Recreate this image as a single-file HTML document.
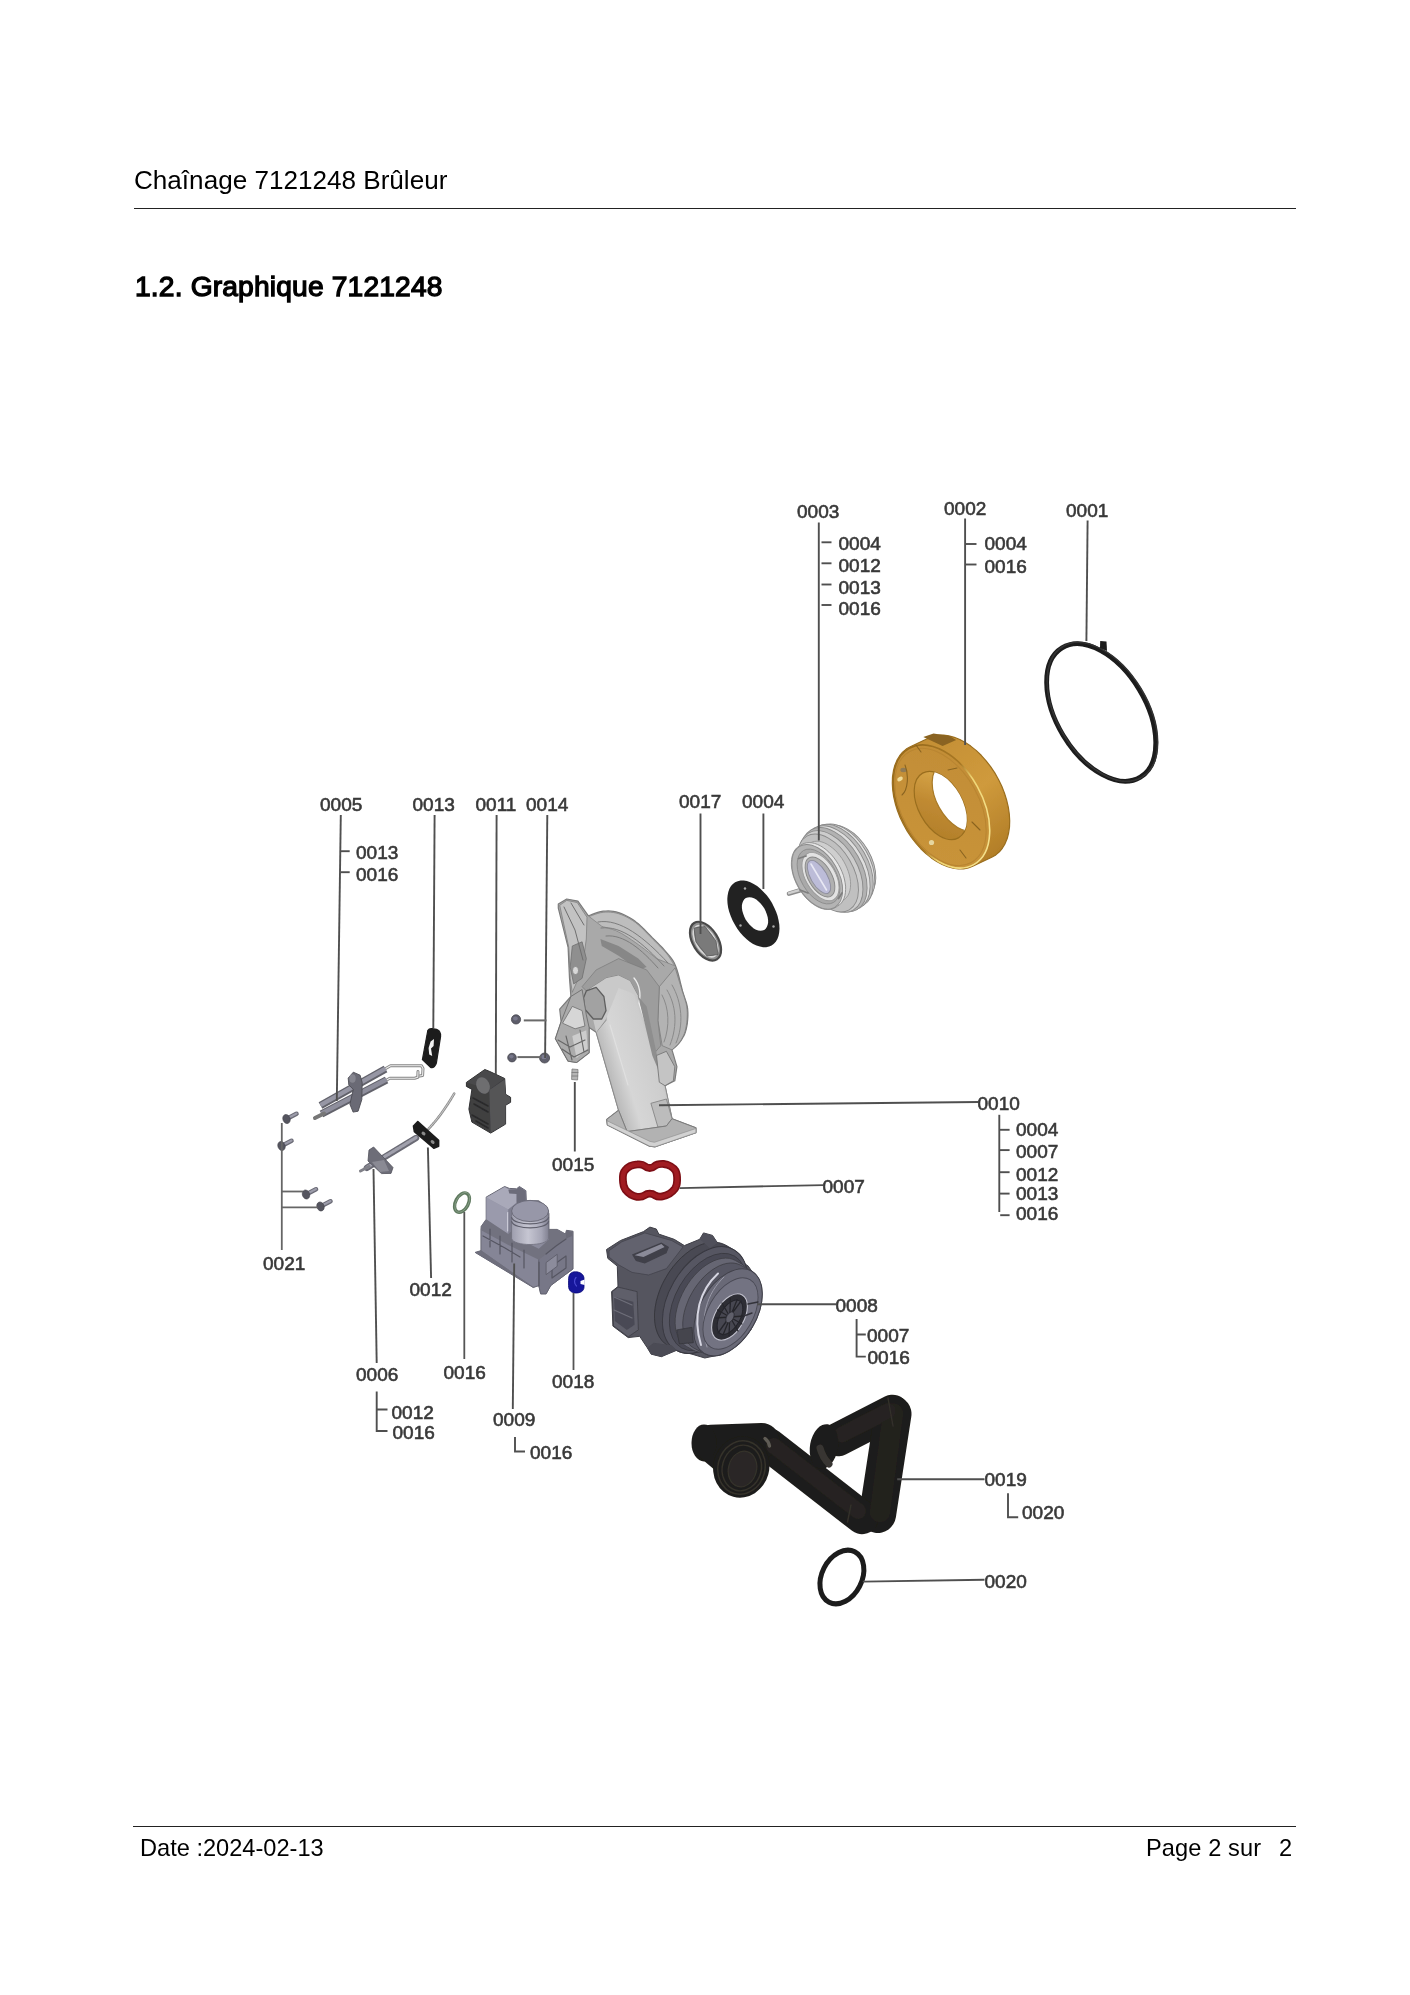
<!DOCTYPE html>
<html><head><meta charset="utf-8">
<title>Chaînage 7121248 Brûleur</title>
<style>
html,body{margin:0;padding:0;background:#fff;}
body{width:1410px;height:1995px;position:relative;overflow:hidden;font-family:"Liberation Sans",sans-serif;color:#000;}
.hdr{position:absolute;left:134px;top:165px;font-size:26.1px;line-height:30px;white-space:nowrap;}
.hline{position:absolute;left:134px;width:1162px;top:208px;height:1px;background:#222;}
.h2{position:absolute;left:134.5px;top:268.6px;font-size:28.2px;line-height:34px;font-weight:normal;white-space:nowrap;letter-spacing:0.16px;-webkit-text-stroke:1.3px #000;}
.fline{position:absolute;left:133px;width:1163px;top:1826px;height:1px;background:#222;}
.fl{position:absolute;left:139.5px;top:1835px;font-size:23.6px;line-height:26px;white-space:nowrap;}
.fr{letter-spacing:0.1px;position:absolute;left:1146px;top:1835px;font-size:23.6px;line-height:26px;white-space:nowrap;}
.fr2{position:absolute;left:1279px;top:1835px;font-size:23.6px;line-height:26px;white-space:nowrap;}
svg{position:absolute;left:0;top:0;}
.hdr,.h2,.fl,.fr,.fr2{will-change:transform;}
</style></head><body>
<div class="hdr" id="hdr">Chaînage 7121248 Brûleur</div>
<div class="hline"></div>
<div class="h2" id="h2">1.2. Graphique 7121248</div>
<div class="fline"></div>
<div class="fl" id="fl">Date :2024-02-13</div>
<div class="fr" id="fr">Page 2 sur</div>
<div class="fr2" id="fr2">2</div>
<svg id="dg" width="1410" height="1995" viewBox="0 0 1410 1995">
<defs>
<filter id="bl" filterUnits="userSpaceOnUse" x="0" y="0" width="1410" height="1995"><feGaussianBlur stdDeviation="0.45"/></filter>
<filter id="bp" filterUnits="userSpaceOnUse" x="0" y="0" width="1410" height="1995"><feGaussianBlur stdDeviation="0.6"/></filter>
<linearGradient id="gRim" gradientUnits="userSpaceOnUse" x1="930" y1="740" x2="1010" y2="850"><stop offset="0" stop-color="#c48f35"/><stop offset="0.5" stop-color="#cf9a3c"/><stop offset="1" stop-color="#b07c26"/></linearGradient>
<linearGradient id="gFace" gradientUnits="userSpaceOnUse" x1="895" y1="760" x2="985" y2="860"><stop offset="0" stop-color="#c28d36"/><stop offset="1" stop-color="#c9943a"/></linearGradient>
<linearGradient id="gIn" gradientUnits="userSpaceOnUse" x1="915" y1="780" x2="965" y2="830"><stop offset="0" stop-color="#d9a84a"/><stop offset="0.5" stop-color="#c08a32"/><stop offset="1" stop-color="#b27f2a"/></linearGradient>
<linearGradient id="gEdge" gradientUnits="userSpaceOnUse" x1="905" y1="835" x2="980" y2="775"><stop offset="0" stop-color="#9a6c1e"/><stop offset="0.5" stop-color="#a87824"/><stop offset="0.66" stop-color="#efd574"/><stop offset="1" stop-color="#f4e08a"/></linearGradient>
<linearGradient id="g10tube" gradientUnits="userSpaceOnUse" x1="600" y1="1060" x2="665" y2="1040"><stop offset="0" stop-color="#b4b4b4"/><stop offset="0.3" stop-color="#d6d6d6"/><stop offset="0.75" stop-color="#cdcdcd"/><stop offset="1" stop-color="#a8a8a8"/></linearGradient>
<linearGradient id="g9cyl" gradientUnits="userSpaceOnUse" x1="511" y1="0" x2="549" y2="0"><stop offset="0" stop-color="#9c9cac"/><stop offset="0.45" stop-color="#c6c6d2"/><stop offset="0.8" stop-color="#a6a6b6"/><stop offset="1" stop-color="#7f7f8f"/></linearGradient>
<filter id="bt" filterUnits="userSpaceOnUse" x="0" y="0" width="1410" height="1995"><feGaussianBlur stdDeviation="0.55"/></filter>
</defs>
<g id="parts">
<g id="p0001" filter="url(#bp)">
<ellipse cx="1101.2" cy="712.5" rx="75.6" ry="44.4" transform="rotate(58.8 1101.2 712.5)" fill="none" stroke="#1b1b1b" stroke-width="4.8" />
<ellipse cx="1102.4" cy="711.8" rx="76.4" ry="45" transform="rotate(58.8 1102.4 711.8)" fill="none" stroke="#333" stroke-width="1.6" />
<path d="M1100 648L1100.2 641L1106.5 641.5L1107 651Z" fill="#1b1b1b" />
</g>
<g id="p0002" filter="url(#bp)">
<path d="M972.7 866.3L968.3 867.9L963.5 868.8L958.4 868.9L953.2 868.2L947.7 866.7L942.2 864.5L936.7 861.5L931.3 857.9L925.9 853.6L920.8 848.7L915.9 843.2L911.4 837.4L907.2 831.1L903.5 824.5L900.2 817.7L897.5 810.7L895.3 803.7L893.7 796.8L892.7 789.9L892.3 783.3L892.5 776.9L893.4 771L894.8 765.4L896.9 760.4L899.5 756L902.6 752.2L906.2 749.1L910.3 746.7L929.3 737.7L933.7 736.1L938.5 735.2L943.6 735.1L948.8 735.8L954.3 737.3L959.8 739.5L965.3 742.5L970.7 746.1L976.1 750.4L981.2 755.3L986.1 760.8L990.6 766.6L994.8 772.9L998.5 779.5L1001.8 786.3L1004.5 793.3L1006.7 800.3L1008.3 807.2L1009.3 814.1L1009.7 820.7L1009.5 827.1L1008.6 833L1007.2 838.6L1005.1 843.6L1002.5 848L999.4 851.8L995.8 854.9L991.7 857.3Z" fill="url(#gRim)" stroke="#9a6e1f" stroke-width="1.2" stroke-linejoin="round" />
<ellipse cx="941.5" cy="806.5" rx="66.5" ry="41" transform="rotate(61 941.5 806.5)" fill="url(#gFace)" stroke="url(#gEdge)" stroke-width="1.6" />
<ellipse cx="940.5" cy="807" rx="63.5" ry="38.5" transform="rotate(61 940.5 807)" fill="none" stroke="#b98530" stroke-width="1" />
<clipPath id="cGoldIn"><ellipse cx="940.5" cy="805.5" rx="37" ry="22" transform="rotate(61 940.5 805.5)" fill="#000" /></clipPath>
<ellipse cx="940.5" cy="805.5" rx="37" ry="22" transform="rotate(61 940.5 805.5)" fill="url(#gIn)" stroke="#9a6e1f" stroke-width="1.2" />
<g clip-path="url(#cGoldIn)"><ellipse cx="958.5" cy="797" rx="37" ry="22" transform="rotate(61 958.5 797)" fill="#fff" stroke="#a87a28" stroke-width="1.2" /></g>
<path d="M923.3 737L933.5 733.6L949.4 735.9L956.2 739.9L942.6 746.1Z" fill="#8a6420" />
<ellipse cx="903.5" cy="770" rx="3.2" ry="2.2" transform="rotate(0 903.5 770)" fill="#8f7a55" />
<ellipse cx="931.5" cy="842.5" rx="2.6" ry="2.6" transform="rotate(0 931.5 842.5)" fill="#e6d6a0" />
<ellipse cx="900" cy="779" rx="3" ry="2" transform="rotate(-30 900 779)" fill="#f0dc9a" />
<path d="M905 765C909 775 908 790 902 795M916 745L921 752M948 770L957 768M972 822L980 830M960 850L966 858" fill="none" stroke="#8a6420" stroke-width="1.1" stroke-linejoin="round" stroke-linecap="round" />
</g>
<g id="p0004" filter="url(#bp)">
<path fill-rule="evenodd" fill="#222" d="M771.6 945.5L769.1 946.6L766.2 947.2L763.1 947.2L759.9 946.6L756.5 945.5L753.1 943.9L749.7 941.7L746.4 939L743.2 935.9L740.1 932.5L737.3 928.7L734.8 924.6L732.6 920.4L730.7 916.1L729.2 911.7L728.1 907.4L727.5 903.2L727.3 899.1L727.6 895.4L728.3 891.9L729.4 888.8L731 886.1L732.9 884L735.1 882.3L737.7 881.2L740.6 880.6L743.7 880.6L746.9 881.1L750.3 882.3L753.7 883.9L757.1 886.1L760.4 888.8L763.6 891.9L766.7 895.3L769.5 899.1L772 903.1L774.2 907.4L776.1 911.7L777.6 916.1L778.6 920.4L779.3 924.6L779.5 928.7L779.2 932.4L778.5 935.9L777.4 939L775.8 941.7L773.9 943.8ZM764.2 929.9L762.4 930.6L760.4 930.8L758.3 930.5L756 929.7L753.7 928.4L751.5 926.6L749.4 924.5L747.4 922.1L745.6 919.4L744.2 916.6L743.1 913.6L742.3 910.7L741.9 907.9L741.9 905.3L742.4 902.9L743.2 900.9L744.3 899.2L745.8 898.1L747.6 897.4L749.6 897.2L751.7 897.5L754 898.3L756.3 899.6L758.5 901.4L760.6 903.5L762.6 905.9L764.4 908.6L765.8 911.4L766.9 914.4L767.7 917.3L768.1 920.1L768.1 922.7L767.6 925.1L766.8 927.1L765.7 928.8Z"/>
<ellipse cx="745" cy="888.5" rx="1.2" ry="1.2" transform="rotate(0 745 888.5)" fill="#aaa" />
<ellipse cx="740.5" cy="925.5" rx="1.2" ry="1.2" transform="rotate(0 740.5 925.5)" fill="#aaa" />
<ellipse cx="773.5" cy="926.5" rx="1.2" ry="1.2" transform="rotate(0 773.5 926.5)" fill="#aaa" />
</g>
<g id="p0017" filter="url(#bp)">
<ellipse cx="705.5" cy="941.2" rx="21.5" ry="12.5" transform="rotate(58 705.5 941.2)" fill="#8e8e8e" stroke="#4a4a4a" stroke-width="2.2" />
<ellipse cx="705.5" cy="941.2" rx="17.5" ry="9.5" transform="rotate(58 705.5 941.2)" fill="none" stroke="#d8d8d8" stroke-width="1.6" />
<path d="M694 928L705 926.5L716 941L718 954.5L707 956L696 942Z" fill="#7a7a7a" stroke="#5a5a5a" stroke-width="0.8" stroke-linejoin="round" />
</g>
<g id="p0003" filter="url(#bp)">
<path d="M789 893.6L802 889.8" fill="none" stroke="#8c8c8c" stroke-width="4.6" stroke-linejoin="round" stroke-linecap="round" />
<path d="M789 893.2L802 889.4" fill="none" stroke="#cfcfcf" stroke-width="2.4" stroke-linejoin="round" stroke-linecap="round" />
<ellipse cx="850.5" cy="860" rx="33" ry="19.5" transform="rotate(60 850.5 860)" fill="#b9b9b9" stroke="#8a8a8a" stroke-width="0.9" />
<ellipse cx="847" cy="862" rx="40" ry="24" transform="rotate(60 847 862)" fill="#c6c6c6" stroke="#8a8a8a" stroke-width="0.9" />
<ellipse cx="843.5" cy="864" rx="43.5" ry="26" transform="rotate(60 843.5 864)" fill="#e2e2e2" stroke="#8a8a8a" stroke-width="0.9" />
<ellipse cx="840.5" cy="866" rx="45.5" ry="27.2" transform="rotate(60 840.5 866)" fill="#bcbcbc" stroke="#8a8a8a" stroke-width="0.9" />
<ellipse cx="837" cy="868" rx="46" ry="27.5" transform="rotate(60 837 868)" fill="#dedede" stroke="#8a8a8a" stroke-width="0.9" />
<ellipse cx="834" cy="869.8" rx="46" ry="27.5" transform="rotate(60 834 869.8)" fill="#b2b2b2" stroke="#8a8a8a" stroke-width="0.9" />
<ellipse cx="831" cy="871.5" rx="44.5" ry="26.5" transform="rotate(60 831 871.5)" fill="#cdcdcd" stroke="#8a8a8a" stroke-width="0.9" />
<ellipse cx="828" cy="873" rx="42.5" ry="25.2" transform="rotate(60 828 873)" fill="#c0c0c0" stroke="#8a8a8a" stroke-width="0.9" />
<path d="M835.5 904.6L833.5 905.5L831.3 906L829 906.2L826.5 906L824 905.4L821.3 904.4L818.7 903.1L816.1 901.4L813.5 899.4L810.9 897.2L808.5 894.6L806.2 891.8L804 888.9L802.1 885.7L800.4 882.5L798.9 879.1L797.6 875.7L796.6 872.4L795.9 869L795.5 865.8L795.4 862.7L795.6 859.7L796.1 857L796.8 854.5L797.9 852.2L799.2 850.3L800.7 848.7L802.5 847.4L810.5 842.8L812.5 841.9L814.7 841.4L817 841.2L819.5 841.4L822 842L824.7 843L827.3 844.3L829.9 846L832.5 848L835.1 850.2L837.5 852.8L839.8 855.6L842 858.5L843.9 861.7L845.6 864.9L847.1 868.3L848.4 871.7L849.4 875L850.1 878.4L850.5 881.6L850.6 884.7L850.4 887.7L849.9 890.4L849.2 892.9L848.1 895.2L846.8 897.1L845.3 898.7L843.5 900Z" fill="#cfcfcf" stroke="#909090" stroke-width="0.8" stroke-linejoin="round" />
<path d="M835 907.7L832.8 908.7L830.4 909.3L827.9 909.5L825.2 909.3L822.4 908.7L819.5 907.7L816.6 906.3L813.7 904.5L810.9 902.4L808.1 899.9L805.4 897.2L802.9 894.2L800.6 891L798.5 887.6L796.6 884.1L795 880.4L793.6 876.8L792.6 873.1L791.9 869.5L791.4 866L791.4 862.6L791.6 859.4L792.1 856.4L793 853.6L794.2 851.2L795.6 849.1L797.4 847.3L799.4 845.9L802 844.4L804.2 843.4L806.6 842.8L809.1 842.6L811.8 842.8L814.6 843.4L817.5 844.4L820.4 845.8L823.3 847.6L826.1 849.7L828.9 852.2L831.6 854.9L834.1 857.9L836.4 861.1L838.5 864.5L840.4 868L842 871.7L843.4 875.3L844.4 879L845.1 882.6L845.6 886.1L845.6 889.5L845.4 892.7L844.9 895.7L844 898.5L842.8 900.9L841.4 903L839.6 904.8L837.6 906.2Z" fill="#e6e6e6" stroke="#8c8c8c" stroke-width="0.9" stroke-linejoin="round" />
<ellipse cx="817.2" cy="876.8" rx="35.2" ry="21.2" transform="rotate(60 817.2 876.8)" fill="#b4b4b4" stroke="#8a8a8a" stroke-width="0.9" />
<ellipse cx="818.5" cy="876.5" rx="30" ry="17.6" transform="rotate(60 818.5 876.5)" fill="#a9a9a9" stroke="#8a8a8a" stroke-width="0.8" />
<ellipse cx="820.5" cy="876.6" rx="26.5" ry="15" transform="rotate(60 820.5 876.6)" fill="#e2e2e2" stroke="#9a9a9a" stroke-width="0.9" />
<ellipse cx="820" cy="877" rx="22" ry="11.6" transform="rotate(60 820 877)" fill="#b0b0b0" stroke="#858585" stroke-width="0.9" />
<ellipse cx="819" cy="877" rx="18.5" ry="8.2" transform="rotate(60 819 877)" fill="#bcbcd8" stroke="#8c8c9c" stroke-width="0.9" />
<path d="M811 864L826.5 890" fill="none" stroke="#e8e8f4" stroke-width="1.6" stroke-linejoin="round" stroke-linecap="round" />
<path d="M798.5 858.5L806 856M800 890L808 893M838.5 898.5L842 893" fill="none" stroke="#7f7f7f" stroke-width="1.8" stroke-linejoin="round" stroke-linecap="round" />
</g>
<g id="p0010" filter="url(#bp)">
<path d="M558.3 903.9L566.7 899L577.9 901.1L588.4 915.8L590 915.2L592.2 914.4L594.8 913.4L597.7 912.4L600.5 911.6L603.2 911.2L605.7 911L608.2 910.9L610.8 911L613.4 911.3L616 911.8L618.6 912.6L621.4 913.6L624.1 914.7L627 916.2L629.8 917.8L632.7 919.6L635.5 921.6L638.3 923.8L641.2 926.4L644.1 929.2L646.9 932.1L649.7 934.9L652.3 937.6L654.9 940.1L657.4 942.6L659.8 945.1L662.2 947.5L664.3 949.9L666.4 952.3L668.2 954.5L669.9 956.4L671.4 958.3L672.8 960.4L674.2 962.8L675.5 965.7L676.8 969.3L678.1 973.5L679.3 978L680.4 982.6L681.5 987L682.5 990.9L683.6 994.4L684.6 997.5L685.6 1000.4L686.5 1003.2L687.2 1006.1L687.7 1009.2L687.9 1012.5L687.9 1015.9L687.7 1019.4L687.4 1022.8L686.9 1025.9L686.3 1028.8L685.6 1031.4L684.8 1033.7L683.8 1035.9L682.7 1037.8L681.6 1039.7L680.4 1041.5L679.1 1043.2L677.5 1044.9L675.8 1046.5L674.3 1047.9L672.9 1049L672 1049.9L676.9 1066.7L674.8 1080.8L665 1085.7L672 1118.7L695.9 1127.8L695.9 1132.7L655.1 1146.8L649.5 1146.1L607.4 1125L606.7 1119.4L618.6 1110.3L596.2 1032.3L589.1 1027.4L589.1 1052.7L576.5 1062.5L568.1 1061.1L555.4 1038.7L561.1 1021.8L559.7 1009.2L570.9 996.5L569.5 978.3L568.1 947.4L558.3 908.1Z" fill="#a9a9a9" stroke="#7c7c7c" stroke-width="1.2" stroke-linejoin="round" />
<path d="M559.7 905.3L566.7 900.4L577.2 902.5L587 917.2L586.3 939L582.1 969.9L572.3 992.3L570.2 978.3L568.8 947.4Z" fill="#c2c2c2" stroke="#808080" stroke-width="0.8" stroke-linejoin="round" />
<path d="M572.3 946L582.1 941.8L586.3 958.6L582.1 978.3L573.7 983.9L570.2 967.1Z" fill="#8f8f8f" stroke="#6e6e6e" stroke-width="0.8" stroke-linejoin="round" />
<ellipse cx="575.5" cy="970.5" rx="3" ry="4" transform="rotate(0 575.5 970.5)" fill="#d8d8d8" stroke="#777" stroke-width="0.6" />
<path d="M564 907L575 930L583 960M571 903L584 925" fill="none" stroke="#6f6f6f" stroke-width="1" stroke-linejoin="round" stroke-linecap="round" />
<path d="M589.1 916.5L590.7 916L592.7 915.2L595.2 914.3L597.9 913.4L600.6 912.7L603.2 912.3L605.7 912.1L608.2 912.1L610.7 912.2L613.3 912.5L616 913L618.6 913.7L621.4 914.7L624.1 915.8L627 917.2L629.8 918.8L632.7 920.6L635.5 922.5L638.3 924.8L641.2 927.4L644.1 930.3L646.9 933.2L649.7 936L652.3 938.7L654.9 941.2L657.4 943.8L659.9 946.2L662.2 948.7L664.4 951L666.4 953.3L668.2 955.6L669.8 958L671.3 960.4L672.6 962.5L673.7 964.3L674.5 965.7L656.5 958.6L654.6 957.1L651.9 954.9L648.6 952.4L645.2 949.7L641.6 947L638.3 944.6L635.1 942.3L631.7 940L628.4 937.7L625 935.6L621.8 933.6L618.6 932L615.5 930.5L612.2 929.4L609 928.4L606 927.5L603.6 926.9L601.8 926.3Z" fill="#bdbdbd" stroke="#858585" stroke-width="0.8" stroke-linejoin="round" />
<path d="M598 922C620 918 645 938 668 963M601 928C622 925 644 944 664 966M606 936C624 934 642 950 658 968" fill="none" stroke="#7d7d7d" stroke-width="1" stroke-linejoin="round" stroke-linecap="round" />
<path d="M600.4 939L618.6 946L638.3 958.6L646.7 967.1L638.3 969.9L618.6 955.8L601.8 946Z" fill="#878787" />
<path d="M659.3 986.7L675.1 967.8L675.9 970.3L677 973.9L678.3 978.2L679.7 982.7L681.1 987.1L682.2 990.9L683.3 994.2L684.3 997.3L685.2 1000.3L686.1 1003.2L686.7 1006.1L687.1 1009.2L687.3 1012.5L687.3 1015.9L687.1 1019.4L686.8 1022.8L686.3 1025.9L685.7 1028.8L685.1 1031.4L684.3 1033.7L683.4 1035.9L682.3 1037.8L681.3 1039.7L680.1 1041.5L678.8 1043.2L677.3 1044.9L675.7 1046.5L674.2 1047.9L672.9 1049L672 1049.9L662.2 1045.7L657.9 1020.4Z" fill="#b3b3b3" stroke="#7c7c7c" stroke-width="0.8" stroke-linejoin="round" />
<path d="M667 990C676 1005 678 1025 670 1045M672 985C682 1002 684 1025 676 1043M662 995C669 1008 670 1026 664 1042" fill="none" stroke="#8a8a8a" stroke-width="1" stroke-linejoin="round" stroke-linecap="round" />
<path d="M596.2 969.9L618.6 958.6L646.7 969.9L659.3 986.7L657.9 1020.4L660.8 1045.7L652.3 1055.5L638.3 996.5L629.9 981.1L618.6 975.5L606 978.3L586.3 990.9L582.1 986.7Z" fill="#9d9d9d" stroke="#7a7a7a" stroke-width="0.7" stroke-linejoin="round" />
<path d="M606 978.3L618.6 975.5L629.9 981.1L638.3 996.5L665 1085.7L672 1118.7L666.4 1126L627.1 1131.6L618.6 1110.3L596.2 1032.3L606 1020.4Z" fill="url(#g10tube)" stroke="#8a8a8a" stroke-width="0.8" stroke-linejoin="round" />
<path d="M586.3 990.9L606 978.3L618.6 975.5L629.9 981.1L638.3 996.5L629.9 992.3L618.6 988.1L606 1019L596.2 1032.3Z" fill="#c9c9c9" />
<path d="M586.3 990.9L596.2 987.4L603.9 996.5L606 1010.6L601.8 1019L593.4 1019L584.9 1009.2L583.5 997.9Z" fill="#a2a2a2" stroke="#5f5f5f" stroke-width="1.3" stroke-linejoin="round" />
<path d="M634 978C640 985 641 995 639 1003L656 1055" fill="none" stroke="#ececec" stroke-width="1.3" stroke-linejoin="round" stroke-linecap="round" />
<path d="M610 1025L628 1085" fill="none" stroke="#e0e0e0" stroke-width="1.1" stroke-linejoin="round" stroke-linecap="round" />
<path d="M638.3 996.5L646.7 1006.4L656.5 1052.7L665 1085.7L652.3 1055.5Z" fill="#8e8e8e" />
<path d="M656.5 1055.5L666.4 1051.3L674.8 1066.7L673.4 1080.8L665 1085.7L659.3 1082.2Z" fill="#c4c4c4" stroke="#777" stroke-width="0.9" stroke-linejoin="round" />
<path d="M650.9 1103.3L666.4 1099L672 1118.7L666.4 1126L657.9 1127.1Z" fill="#bcbcbc" stroke="#7d7d7d" stroke-width="0.8" stroke-linejoin="round" />
<path d="M607.4 1125L606.7 1119.4L618.6 1110.3L627.1 1131.6L666.4 1126L672 1118.7L695.9 1127.8L695.9 1132.7L655.1 1146.8L649.5 1146.1Z" fill="#b2b2b2" stroke="#7c7c7c" stroke-width="1" stroke-linejoin="round" />
<path d="M607.4 1125L649.5 1146.1L655.1 1146.8L695.9 1132.7L695.9 1128.5L654.4 1142.3L649.9 1141.4L607.1 1120.8Z" fill="#d2d2d2" stroke="#8a8a8a" stroke-width="0.6" stroke-linejoin="round" />
<path d="M561.1 1021.8L570.9 996.5L582.1 989.5L586.3 1014.8L589.1 1027.4L589.1 1052.7L576.5 1062.5L568.1 1061.1L555.4 1038.7Z" fill="#ababab" stroke="#6e6e6e" stroke-width="0.9" stroke-linejoin="round" />
<path d="M562.5 1023.2L572.3 1006.4L582.1 1010.6L584.9 1026L575.1 1028.8Z" fill="#d6d6d6" stroke="#6e6e6e" stroke-width="0.8" stroke-linejoin="round" />
<path d="M572.3 1035.9L586.3 1030.2L587.7 1048.5L576.5 1058.3Z" fill="#cdcdcd" />
<path d="M558 1040L570 1047L585 1040M562 1049L574 1057L588 1050M566 1036L572 1060M580 1030L584 1052" fill="none" stroke="#666" stroke-width="1.1" stroke-linejoin="round" stroke-linecap="round" />
</g>
<g id="p0005" filter="url(#bp)">
<path d="M384 1069.5L390.5 1065.8H421.5L423 1068.5L422.6 1075.5L418.2 1076.2" fill="none" stroke="#858585" stroke-width="3" stroke-linejoin="round" stroke-linecap="round" />
<path d="M384 1069.5L390.5 1065.8H421.5L423 1068.5L422.6 1075.5L418.2 1076.2" fill="none" stroke="#efefef" stroke-width="1.1" stroke-linejoin="round" stroke-linecap="round" />
<path d="M385 1081L389.8 1078.2H414.6L417.8 1077.2L418 1071.6" fill="none" stroke="#858585" stroke-width="3" stroke-linejoin="round" stroke-linecap="round" />
<path d="M385 1081L389.8 1078.2H414.6L417.8 1077.2L418 1071.6" fill="none" stroke="#efefef" stroke-width="1.1" stroke-linejoin="round" stroke-linecap="round" />
<path d="M320.5 1105.5L385.5 1069" fill="none" stroke="#62626b" stroke-width="7.6" stroke-linejoin="round" stroke-linecap="butt" />
<path d="M320.5 1105.1L385.5 1068.6" fill="none" stroke="#9696a4" stroke-width="4.4" stroke-linejoin="round" stroke-linecap="butt" />
<path d="M321.5 1114L386.5 1080" fill="none" stroke="#62626b" stroke-width="7.6" stroke-linejoin="round" stroke-linecap="butt" />
<path d="M321.5 1113.5L386.5 1079.5" fill="none" stroke="#8e8e9c" stroke-width="4.4" stroke-linejoin="round" stroke-linecap="butt" />
<path d="M315 1118L324 1113.5" fill="none" stroke="#777" stroke-width="4" stroke-linejoin="round" stroke-linecap="round" />
<path d="M348.2 1078.1L353.3 1072.2L360.1 1075.2L362.2 1082.6L361.8 1099.6L358.1 1111.2L353.1 1112.1L349.9 1104.2L353.3 1089.4L348.8 1084.9Z" fill="#6a6a74" stroke="#4c4c53" stroke-width="0.9" stroke-linejoin="round" />
<ellipse cx="352.5" cy="1078.5" rx="3.2" ry="4.2" transform="rotate(0 352.5 1078.5)" fill="#85858f" />
</g>
<g id="p0013" filter="url(#bp)">
<path d="M422.4 1059.5L427.8 1030.5Q429 1028.3 432 1028.6L436.6 1029.3Q441 1031 440.6 1036.5L436.4 1063Q434.5 1068.5 430.5 1067.4Z" fill="#1e1e1e" stroke="#1e1e1e" stroke-width="1.2" stroke-linejoin="round" stroke-linecap="round" />
<path d="M430.6 1041.5L434 1039L433.6 1046L431 1048.5L432.2 1056L429.2 1054.6L428.6 1048Z" fill="#f2f2f2" />
</g>
<g id="p0006" filter="url(#bp)">
<path d="M428.5 1129C438 1119 447 1106 454.2 1093.6" fill="none" stroke="#8e8e8e" stroke-width="2.6" stroke-linejoin="round" stroke-linecap="round" stroke-dasharray="2.2 0.8"/>
<path d="M428.5 1129C438 1119 447 1106 454.2 1093.6" fill="none" stroke="#d9d9d9" stroke-width="0.8" stroke-linejoin="round" stroke-linecap="round" />
<path d="M367 1167.8L416 1138" fill="none" stroke="#6a6a74" stroke-width="6.4" stroke-linejoin="round" stroke-linecap="round" />
<path d="M367 1167.4L416 1137.6" fill="none" stroke="#a0a0ac" stroke-width="3.2" stroke-linejoin="round" stroke-linecap="round" stroke-dasharray="3 1.2"/>
<path d="M360.5 1171L369 1166.5" fill="none" stroke="#808088" stroke-width="3" stroke-linejoin="round" stroke-linecap="round" />
<path d="M369 1150L373.6 1147L393 1167.5L391 1173.4L381.5 1173.6L368 1161Z" fill="#6d6d78" stroke="#50505a" stroke-width="0.8" stroke-linejoin="round" />
<path d="M372 1162L384 1160L389 1171L380 1172Z" fill="#8a8a94" />
<path d="M413.5 1126L417.8 1121.6L438.6 1140.4L438.6 1146.2L433.8 1148.2L414.4 1131.6Z" fill="#1c1c1c" stroke="#1c1c1c" stroke-width="1.6" stroke-linejoin="round" stroke-linecap="round" />
<ellipse cx="423.5" cy="1133.6" rx="2.2" ry="1.6" transform="rotate(40 423.5 1133.6)" fill="#8a8a8a" />
<ellipse cx="432.6" cy="1142" rx="2.2" ry="1.6" transform="rotate(40 432.6 1142)" fill="#8a8a8a" />
</g>
<g id="p0011" filter="url(#bp)">
<path d="M466.4 1082.4L484.8 1069.5L489.8 1071.5L504.7 1078.5L505.6 1094.3L510.6 1097.3L510.6 1102.3L505.6 1105.3L505.6 1124.1L490.7 1133.1L471.9 1122.1L468.9 1109.2L471.9 1089.4L466.4 1086.4Z" fill="#3f3f41" stroke="#2f2f30" stroke-width="1" stroke-linejoin="round" />
<path d="M489.3 1089.9L504.7 1079.4L505.6 1094.3L510.1 1097.8L510.1 1102.1L505.6 1105.1L505.4 1123.9L490.7 1132.6Z" fill="#545457" />
<path d="M466.9 1082.6L484.8 1070L504.5 1078.6L489.3 1089.4Z" fill="#4a4a4c" />
<ellipse cx="483" cy="1085.5" rx="6.5" ry="8.5" transform="rotate(-25 483 1085.5)" fill="#6e6e70" />
<path d="M473 1098L488 1106M474 1104L488 1112M472 1115L488 1124M476 1121L488 1128" fill="none" stroke="#2a2a2b" stroke-width="1.6" stroke-linejoin="round" stroke-linecap="round" />
</g>
<g id="p0014" filter="url(#bp)">
<ellipse cx="516" cy="1019.4" rx="4.6" ry="4.6" transform="rotate(0 516 1019.4)" fill="#5d5d6b" stroke="#47474f" stroke-width="0.8" />
<ellipse cx="515.4" cy="1018.4" rx="2.4" ry="2" transform="rotate(0 515.4 1018.4)" fill="#77778a" />
<ellipse cx="512" cy="1057.6" rx="4.3" ry="4.3" transform="rotate(0 512 1057.6)" fill="#5d5d6b" stroke="#47474f" stroke-width="0.8" />
<ellipse cx="511.4" cy="1056.6" rx="2.2" ry="1.8" transform="rotate(0 511.4 1056.6)" fill="#77778a" />
<ellipse cx="544.6" cy="1058" rx="5" ry="5" transform="rotate(0 544.6 1058)" fill="#5f5f6c" stroke="#47474f" stroke-width="0.8" />
<ellipse cx="544" cy="1057" rx="2.6" ry="2.2" transform="rotate(0 544 1057)" fill="#7c7c90" />
<path d="M572 1069L578 1069.5L577.6 1080L571.6 1079.5Z" fill="#b5b5b5" stroke="#7d7d7d" stroke-width="0.8" stroke-linejoin="round" />
<path d="M572 1072.5H578M572 1076H577.8" fill="none" stroke="#777" stroke-width="0.8" stroke-linejoin="round" stroke-linecap="round" />
</g>
<g id="p0021" filter="url(#bp)">
<path d="M286.5 1119L296.5 1113.8" fill="none" stroke="#6b6b76" stroke-width="4.6" stroke-linejoin="round" stroke-linecap="round" />
<path d="M289.5 1117.2L296.5 1113.6" fill="none" stroke="#9c9caa" stroke-width="2.2" stroke-linejoin="round" stroke-linecap="round" stroke-dasharray="1.4 0.9"/>
<ellipse cx="286.5" cy="1119" rx="3.6" ry="4.6" transform="rotate(-20 286.5 1119)" fill="#55555f" stroke="#44444b" stroke-width="0.6" />
<path d="M281.5 1146L291.5 1140.8" fill="none" stroke="#6b6b76" stroke-width="4.6" stroke-linejoin="round" stroke-linecap="round" />
<path d="M284.5 1144.2L291.5 1140.6" fill="none" stroke="#9c9caa" stroke-width="2.2" stroke-linejoin="round" stroke-linecap="round" stroke-dasharray="1.4 0.9"/>
<ellipse cx="281.5" cy="1146" rx="3.6" ry="4.6" transform="rotate(-20 281.5 1146)" fill="#55555f" stroke="#44444b" stroke-width="0.6" />
<path d="M306 1194.5L316 1189.3" fill="none" stroke="#6b6b76" stroke-width="4.6" stroke-linejoin="round" stroke-linecap="round" />
<path d="M309 1192.7L316 1189.1" fill="none" stroke="#9c9caa" stroke-width="2.2" stroke-linejoin="round" stroke-linecap="round" stroke-dasharray="1.4 0.9"/>
<ellipse cx="306" cy="1194.5" rx="3.6" ry="4.6" transform="rotate(-20 306 1194.5)" fill="#55555f" stroke="#44444b" stroke-width="0.6" />
<path d="M320.5 1206.5L330.5 1201.3" fill="none" stroke="#6b6b76" stroke-width="4.6" stroke-linejoin="round" stroke-linecap="round" />
<path d="M323.5 1204.7L330.5 1201.1" fill="none" stroke="#9c9caa" stroke-width="2.2" stroke-linejoin="round" stroke-linecap="round" stroke-dasharray="1.4 0.9"/>
<ellipse cx="320.5" cy="1206.5" rx="3.6" ry="4.6" transform="rotate(-20 320.5 1206.5)" fill="#55555f" stroke="#44444b" stroke-width="0.6" />
</g>
<g id="p0016" filter="url(#bp)">
<ellipse cx="462" cy="1202.6" rx="10.4" ry="6.4" transform="rotate(-62 462 1202.6)" fill="none" stroke="#5f7a5f" stroke-width="3.4" />
<ellipse cx="462.3" cy="1202.4" rx="10.8" ry="6.2" transform="rotate(-62 462.3 1202.4)" fill="none" stroke="#8aa08a" stroke-width="0.8" />
</g>
<g id="p0007" filter="url(#bp)">
<path d="M622.9 1180C622.6 1175 623 1172.5 625 1170.4C628 1166.5 633 1164.6 637.5 1164.4C640.5 1164 643 1164.6 645 1166.2C647.5 1168.6 652 1168.6 654.5 1166.2C656.5 1164.4 659.5 1163.8 663.7 1164C668.5 1164.4 673.5 1167.4 675.6 1170.8C677 1173.4 677.3 1176 677.1 1180.6C677 1184 676.5 1186.5 675 1188.6C672 1192.5 667 1195.6 662.4 1196.4C659.5 1197 657 1196.6 655 1195.4C652 1193.2 647.5 1193.2 644.5 1195.4C642.5 1196.8 640 1197.2 636.9 1196.8C632 1196 628 1193 625.4 1189.6C623.6 1187 623 1184 622.9 1180Z" fill="none" stroke="#7d1015" stroke-width="7.8" stroke-linejoin="round" stroke-linecap="round" />
<path d="M622.9 1180C622.6 1175 623 1172.5 625 1170.4C628 1166.5 633 1164.6 637.5 1164.4C640.5 1164 643 1164.6 645 1166.2C647.5 1168.6 652 1168.6 654.5 1166.2C656.5 1164.4 659.5 1163.8 663.7 1164C668.5 1164.4 673.5 1167.4 675.6 1170.8C677 1173.4 677.3 1176 677.1 1180.6C677 1184 676.5 1186.5 675 1188.6C672 1192.5 667 1195.6 662.4 1196.4C659.5 1197 657 1196.6 655 1195.4C652 1193.2 647.5 1193.2 644.5 1195.4C642.5 1196.8 640 1197.2 636.9 1196.8C632 1196 628 1193 625.4 1189.6C623.6 1187 623 1184 622.9 1180Z" fill="none" stroke="#a01a20" stroke-width="4.6" stroke-linejoin="round" stroke-linecap="round" />
</g>
<g id="p0009" filter="url(#bp)">
<path d="M475.1 1252.4L481.1 1250.6L481.1 1226.6L486.2 1219.3L486.2 1197.1L504.6 1186.5L509.3 1188.4L516.6 1188.8L519.4 1186.5L525.9 1190.7L526.3 1200.8L538.8 1200.8L546.1 1206.3L548.9 1213.7L548.9 1229.4L557.2 1229.4L565.5 1234L566.4 1230.3L572.9 1231.2L572.9 1269L550.7 1285.6L546.1 1293.9L540.6 1293.9L538.8 1285.6L533.2 1287.5Z" fill="#8b8b9c" stroke="#666673" stroke-width="1" stroke-linejoin="round" />
<path d="M486.4 1197.6L508.3 1209.6L508.3 1234L486.4 1220.2Z" fill="#9a9aac" />
<path d="M486.4 1197.6L504.6 1187L516.6 1193.9L516.6 1202.7L508.3 1209.6Z" fill="#a9a9b9" />
<path d="M508.3 1209.6L516.6 1202.7L516.6 1226.6L508.3 1234Z" fill="#7e7e8f" />
<path d="M508.3 1189.8L516.6 1189.3L519.4 1187L525.4 1190.9L525.9 1201.7L520.3 1205.4L516.6 1202.7L516.6 1193.9L509.3 1193.4Z" fill="#6c6c7a" />
<path d="M507.6 1212.5V1231" fill="none" stroke="#c9c9d6" stroke-width="1.2" stroke-linejoin="round" stroke-linecap="round" />
<path d="M481.1 1228.5L508.3 1243.2L538.8 1258L538.8 1285.6L533.2 1287.3L481.1 1250.8Z" fill="#858596" stroke="#676774" stroke-width="0.7" stroke-linejoin="round" />
<path d="M538.8 1258L572.9 1231.4L572.9 1269L550.7 1285.5L546.1 1293.8L540.8 1293.8L538.8 1285.6Z" fill="#777787" stroke="#616170" stroke-width="0.7" stroke-linejoin="round" />
<path d="M475.1 1252.4L481.1 1250.6L533.2 1287.3L529.5 1285.2Z" fill="#6e6e7c" />
<path d="M481.1 1226.6L486.2 1219.3L508.3 1234L516.6 1226.6L524 1241.4L538.8 1248.8L548.9 1239.5L548.9 1229.4L557.2 1229.4L565.5 1234L572.9 1231.2L572.9 1234L538.8 1259.8L508.3 1245.1L481.1 1230.3Z" fill="#72727f" />
<path d="M483 1236L505 1248L520 1257M490 1229V1247M500 1236V1254M512 1243V1262M524 1250V1268M539 1262V1286M546 1254L556 1246L566 1239M552 1266L566 1256V1268L552 1278Z" fill="none" stroke="#565662" stroke-width="1.2" stroke-linejoin="round" stroke-linecap="round" />
<path d="M511.6 1211V1238.5C513 1246.5 547 1246.5 548.6 1238.5V1211Z" fill="url(#g9cyl)" stroke="#6f6f7c" stroke-width="0.8" stroke-linejoin="round" stroke-linecap="round" />
<ellipse cx="530.1" cy="1211" rx="18.5" ry="10.6" transform="rotate(0 530.1 1211)" fill="#9797a8" stroke="#6a6a77" stroke-width="0.9" />
<path d="M511.6 1217.5C514 1226 546 1226 548.6 1217.5M511.6 1221.5C514 1230 546 1230 548.6 1221.5" fill="none" stroke="#5f5f6c" stroke-width="1.1" stroke-linejoin="round" stroke-linecap="round" />
<path d="M546.1 1262.6L557.2 1254.3L557.2 1266.3L546.1 1274.6Z" fill="#8c8c9c" stroke="#5a5a66" stroke-width="0.8" stroke-linejoin="round" />
<path d="M566 1230.8L572.4 1231.4L572.4 1235.9L566 1238.6Z" fill="#6a6a77" />
</g>
<g id="p0018" filter="url(#bp)">
<path d="M568.5 1280C568.5 1274 571 1271.8 575.5 1271.8C580 1271.8 584 1274.5 584 1278.5V1287C584 1291 580.5 1293 576 1293C571.5 1293 568.5 1290.5 568.5 1286Z" fill="#15159a" stroke="#0d0d78" stroke-width="0.8" stroke-linejoin="round" stroke-linecap="round" />
<path d="M576 1277.5C574 1279.5 574 1284 576.5 1286" fill="none" stroke="#4a4ad0" stroke-width="1.2" stroke-linejoin="round" stroke-linecap="round" />
<path d="M584.6 1279.5L580.5 1281L580.5 1284L584.6 1285Z" fill="#fff" />
</g>
<g id="p0008" filter="url(#bp)">
<path d="M606.5 1249.5L620.5 1240.5L643.5 1231.6L649.9 1227.1L656.3 1229L658.8 1234.1L674.2 1239.3L684.4 1245.6L699.7 1239.3L703.5 1232.9L712.5 1235.4L717.6 1243.1L730.3 1248.2L735.4 1257.1L748.2 1266.1L757.1 1278.8L759.7 1294.2L758.4 1312L750.8 1329.9L739.3 1343.9L722.7 1354.2L704.8 1358L692 1354.2L676.7 1350.3L661.4 1356.7L651.2 1354.2L647.3 1347.8L639.7 1336.3L628.2 1337.6L612.9 1326.1L611.6 1291.6L618 1286.5L617.3 1266.1L607.8 1258.4Z" fill="#55555f" stroke="#3e3e46" stroke-width="1" stroke-linejoin="round" />
<path d="M609 1250.7L621.8 1241.8L644.8 1232.9L671.6 1240.5L683.1 1246.9L666.5 1268.6L648.6 1275L632 1272.4L618.6 1264.8L609 1257.1Z" fill="#62626e" stroke="#44444c" stroke-width="0.8" stroke-linejoin="round" />
<path d="M632 1254.6L661.4 1242.4L669 1246.9L666.5 1253.3L644.8 1263.5L635.9 1261Z" fill="#3f3f48" />
<path d="M634.6 1255.2L661.4 1244.1L664.6 1246.9L643.5 1257.1Z" fill="#8a8a98" />
<path d="M612.2 1291.6L618 1287.1L637.1 1291.6L638.4 1329.9L628.2 1336.9L613.5 1325.8Z" fill="#5e5e6a" stroke="#3c3c44" stroke-width="0.8" stroke-linejoin="round" />
<path d="M614.1 1296.7L633.3 1301.8L634.6 1324.8L626.9 1329.9L614.8 1321Z" fill="#4a4a54" />
<path d="M614 1297L632 1305M614 1310L632 1318" fill="none" stroke="#6e6e7a" stroke-width="1.2" stroke-linejoin="round" stroke-linecap="round" />
<path d="M668 1345.7L664.7 1343.4L661.8 1340.5L659.4 1337L657.4 1333L655.9 1328.5L654.9 1323.6L654.5 1318.3L654.5 1312.8L655.2 1307L656.3 1301.1L658 1295.2L660.1 1289.2L662.7 1283.3L665.8 1277.6L669.2 1272L673 1266.8L677.1 1262L681.4 1257.5L686 1253.6L690.7 1250.1L695.4 1247.3L700.2 1245L704.9 1243.4L709.6 1242.4L714 1242.1L718.3 1242.5L722.3 1243.6L726 1245.3L734 1249.9L737.3 1252.2L740.2 1255.1L742.6 1258.6L744.6 1262.6L746.1 1267.1L747.1 1272L747.5 1277.3L747.5 1282.8L746.8 1288.6L745.7 1294.5L744 1300.4L741.9 1306.4L739.3 1312.3L736.2 1318L732.8 1323.6L729 1328.8L724.9 1333.6L720.6 1338.1L716 1342L711.3 1345.5L706.6 1348.3L701.8 1350.6L697.1 1352.2L692.4 1353.2L688 1353.5L683.7 1353.1L679.7 1352L676 1350.3Z" fill="#484852" stroke="#34343b" stroke-width="0.9" stroke-linejoin="round" />
<ellipse cx="705" cy="1300" rx="58" ry="36" transform="rotate(-60 705 1300)" fill="#565662" stroke="#383840" stroke-width="0.9" />
<ellipse cx="708" cy="1302" rx="53" ry="32.5" transform="rotate(-60 708 1302)" fill="#4a4a55" stroke="#383840" stroke-width="0.8" />
<path d="M686.4 1346.4L683.6 1344.5L681.2 1342.1L679.1 1339.1L677.5 1335.8L676.3 1332L675.5 1327.9L675.1 1323.4L675.2 1318.7L675.8 1313.8L676.8 1308.8L678.2 1303.7L680.1 1298.6L682.3 1293.6L684.9 1288.7L687.8 1284L691 1279.5L694.5 1275.4L698.2 1271.5L702 1268.1L705.9 1265.2L710 1262.7L714 1260.7L718 1259.3L721.9 1258.4L725.6 1258.1L729.2 1258.3L732.5 1259.2L735.6 1260.6L741.6 1264L744.4 1265.9L746.8 1268.3L748.9 1271.3L750.5 1274.6L751.7 1278.4L752.5 1282.5L752.9 1287L752.8 1291.7L752.2 1296.6L751.2 1301.6L749.8 1306.7L747.9 1311.8L745.7 1316.8L743.1 1321.7L740.2 1326.4L737 1330.9L733.5 1335L729.8 1338.9L726 1342.3L722.1 1345.2L718 1347.7L714 1349.7L710 1351.1L706.1 1352L702.4 1352.3L698.8 1352.1L695.5 1351.2L692.4 1349.8Z" fill="#666673" stroke="#3c3c44" stroke-width="0.8" stroke-linejoin="round" />
<path d="M693.8 1348L691.1 1346.2L688.8 1344L686.8 1341.2L685.2 1338.1L684 1334.5L683.2 1330.6L682.8 1326.4L682.8 1321.9L683.3 1317.3L684.2 1312.5L685.5 1307.6L687.3 1302.8L689.3 1297.9L691.8 1293.2L694.5 1288.6L697.6 1284.3L700.8 1280.3L704.3 1276.5L708 1273.2L711.7 1270.3L715.6 1267.8L719.4 1265.8L723.2 1264.3L726.9 1263.4L730.5 1263L734 1263.1L737.2 1263.8L740.2 1265L751.2 1270.8L753.9 1272.6L756.2 1274.8L758.2 1277.6L759.8 1280.7L761 1284.3L761.8 1288.2L762.2 1292.4L762.2 1296.9L761.7 1301.5L760.8 1306.3L759.5 1311.2L757.7 1316L755.7 1320.9L753.2 1325.6L750.5 1330.2L747.4 1334.5L744.2 1338.5L740.7 1342.3L737 1345.6L733.3 1348.5L729.4 1351L725.6 1353L721.8 1354.5L718.1 1355.4L714.5 1355.8L711 1355.7L707.8 1355L704.8 1353.8Z" fill="#575763" stroke="#3c3c44" stroke-width="0.8" stroke-linejoin="round" />
<ellipse cx="728" cy="1312.3" rx="47.5" ry="28.5" transform="rotate(-60 728 1312.3)" fill="#696977" stroke="#40404a" stroke-width="1" />
<path d="M718 1273.5C700 1290 692 1316 701 1345" fill="none" stroke="#d6d6e2" stroke-width="2" stroke-linejoin="round" stroke-linecap="round" />
<path d="M724 1277C707 1293 699 1318 707 1347" fill="none" stroke="#9a9aa8" stroke-width="1" stroke-linejoin="round" stroke-linecap="round" />
<ellipse cx="730.5" cy="1313.5" rx="39" ry="22.5" transform="rotate(-60 730.5 1313.5)" fill="#737382" stroke="#4a4a55" stroke-width="0.9" />
<ellipse cx="729.5" cy="1317" rx="25.5" ry="14.5" transform="rotate(-60 729.5 1317)" fill="#2f2f36" stroke="#c2c2ce" stroke-width="1.1" />
<ellipse cx="730" cy="1317.3" rx="19" ry="10" transform="rotate(-60 730 1317.3)" fill="#474751" stroke="#24242a" stroke-width="1" />
<path d="M741 1301L718 1333M717.5 1310L742 1324M722 1303L738 1331M730.5 1298L729 1336M737 1300L723 1335M716 1318L744 1316" fill="none" stroke="#26262c" stroke-width="1.3" stroke-linejoin="round" stroke-linecap="round" />
<ellipse cx="730" cy="1317.3" rx="6" ry="3.4" transform="rotate(-60 730 1317.3)" fill="#5e5e6a" stroke="#2c2c32" stroke-width="0.8" />
<path d="M748 1304L758 1302M744 1316L752 1313" fill="none" stroke="#33333a" stroke-width="1.4" stroke-linejoin="round" stroke-linecap="round" />
<path d="M676.7 1350.3L661.4 1356.7L651.2 1354.2L647.3 1347.8L653.7 1342.7L671.6 1345.2Z" fill="#4b4b54" />
<path d="M699.7 1239.3L703.5 1232.9L712.5 1235.4L717.6 1243.1L709.9 1248.2Z" fill="#50505a" />
<path d="M676.7 1329.9L692 1327.3L693.3 1342.7L679.3 1343.9Z" fill="#44444d" stroke="#33333a" stroke-width="0.7" stroke-linejoin="round" />
</g>
<g id="p0019" filter="url(#bp)">
<path d="M892.5 1411.5L838 1439.5" fill="none" stroke="#1f1d1a" stroke-width="33.5" stroke-linejoin="round" stroke-linecap="round" />
<path d="M893 1414L877.6 1514.5" fill="none" stroke="#1f1d1a" stroke-width="37" stroke-linejoin="round" stroke-linecap="round" />
<path d="M769 1445L862 1517.4" fill="none" stroke="#1f1d1a" stroke-width="33.5" stroke-linejoin="round" stroke-linecap="round" />
<path d="M711 1442.2L762 1440.6" fill="none" stroke="#1f1d1a" stroke-width="35" stroke-linejoin="round" stroke-linecap="round" />
<path d="M893 1413.5L880 1512" fill="none" stroke="#24221f" stroke-width="20" stroke-linejoin="round" stroke-linecap="round" />
<path d="M774 1446L858 1511" fill="none" stroke="#252320" stroke-width="16" stroke-linejoin="round" stroke-linecap="round" />
<path d="M888 1411L842 1434.5" fill="none" stroke="#252320" stroke-width="16" stroke-linejoin="round" stroke-linecap="round" />
<ellipse cx="704" cy="1443" rx="12.5" ry="18.5" transform="rotate(0 704 1443)" fill="#1f1d1a" />
<path d="M697 1455L716 1471L722 1455Z" fill="#1f1d1a" />
<ellipse cx="824" cy="1446.5" rx="14" ry="22.5" transform="rotate(10 824 1446.5)" fill="#1f1d1a" />
<ellipse cx="741.3" cy="1467" rx="28" ry="30.8" transform="rotate(15 741.3 1467)" fill="#1f1d1a" />
<ellipse cx="741.5" cy="1467.5" rx="23.5" ry="27" transform="rotate(15 741.5 1467.5)" fill="none" stroke="#34322c" stroke-width="1.5" />
<ellipse cx="741.8" cy="1468" rx="19.5" ry="23" transform="rotate(15 741.8 1468)" fill="none" stroke="#34322c" stroke-width="1.4" />
<ellipse cx="742.5" cy="1469" rx="14" ry="18" transform="rotate(15 742.5 1469)" fill="#2a2825" stroke="#34322c" stroke-width="1.2" />
<path d="M765 1438.5C767.5 1440.5 769 1443 769.5 1446" fill="none" stroke="#5e5b55" stroke-width="3.4" stroke-linejoin="round" stroke-linecap="round" />
<path d="M820 1448C822 1455 825 1460 829 1464" fill="none" stroke="#383632" stroke-width="7" stroke-linejoin="round" stroke-linecap="round" />
<path d="M888 1398L893 1426M851 1505L847.5 1522" fill="none" stroke="#33302b" stroke-width="1.4" stroke-linejoin="round" stroke-linecap="round" />
</g>
<g id="p0020" filter="url(#bp)">
<ellipse cx="841.9" cy="1577" rx="28.3" ry="20" transform="rotate(-63 841.9 1577)" fill="none" stroke="#1b1b1b" stroke-width="5" />
</g>
</g>
<g id="leaders" fill="none" filter="url(#bl)">
<path d="M818.8 522.5L818.8 840.5" stroke="#505050" stroke-width="1.9"/>
<path d="M821.5 542.3L831.5 542.3" stroke="#505050" stroke-width="1.9"/>
<path d="M821.5 563.3L831.5 563.3" stroke="#505050" stroke-width="1.9"/>
<path d="M821.5 584.5L831.5 584.5" stroke="#505050" stroke-width="1.9"/>
<path d="M821.5 605L831.5 605" stroke="#505050" stroke-width="1.9"/>
<path d="M965.1 518.5L965.1 745" stroke="#505050" stroke-width="1.9"/>
<path d="M965.5 544L976.5 544" stroke="#505050" stroke-width="1.9"/>
<path d="M965.5 564.5L976.5 564.5" stroke="#505050" stroke-width="1.9"/>
<path d="M1087.6 520.5L1086.4 641" stroke="#505050" stroke-width="1.9"/>
<path d="M340.8 815L336.8 1101" stroke="#505050" stroke-width="1.9"/>
<path d="M340.5 851.2L349.7 851.2" stroke="#505050" stroke-width="1.9"/>
<path d="M340.5 872.2L349.7 872.2" stroke="#505050" stroke-width="1.9"/>
<path d="M434.6 815L433.3 1028" stroke="#505050" stroke-width="1.9"/>
<path d="M496.6 815L495.8 1074" stroke="#505050" stroke-width="1.9"/>
<path d="M547.3 815L545.1 1058" stroke="#505050" stroke-width="1.9"/>
<path d="M523.8 1020.4L546.5 1020.4" stroke="#6a6a6a" stroke-width="2"/>
<path d="M517.4 1057.1L541 1057.1" stroke="#6a6a6a" stroke-width="2"/>
<path d="M700.5 813.5L700.5 934" stroke="#505050" stroke-width="1.9"/>
<path d="M763.4 813.5L763.4 889" stroke="#505050" stroke-width="1.9"/>
<path d="M574.8 1082L574.8 1151.5" stroke="#505050" stroke-width="1.9"/>
<path d="M281.8 1123L281.8 1250" stroke="#666" stroke-width="1.8"/>
<path d="M281.8 1191.5L303 1191.5" stroke="#666" stroke-width="1.8"/>
<path d="M281.8 1207.4L317.5 1207.4" stroke="#666" stroke-width="1.8"/>
<path d="M427.9 1147.5L431.1 1278" stroke="#505050" stroke-width="1.9"/>
<path d="M373.5 1169L376.7 1363" stroke="#505050" stroke-width="1.9"/>
<path d="M376.7 1391.5V1431H387.5M376.7 1409.5H387.5" stroke="#505050" stroke-width="1.9" fill="none"/>
<path d="M464.3 1212L464.3 1359" stroke="#555" stroke-width="1.8"/>
<path d="M514.2 1263.5L512.8 1409" stroke="#505050" stroke-width="1.9"/>
<path d="M515 1437V1451.5H525" stroke="#505050" stroke-width="1.9" fill="none"/>
<path d="M573.5 1293L573.5 1370" stroke="#555" stroke-width="1.8"/>
<path d="M659 1105.2L978.5 1102" stroke="#505050" stroke-width="1.9"/>
<path d="M999.3 1114.8V1212" stroke="#505050" stroke-width="1.9" fill="none"/>
<path d="M999.3 1129.8L1009.6 1129.8" stroke="#505050" stroke-width="1.9"/>
<path d="M999.3 1150.1L1009.6 1150.1" stroke="#505050" stroke-width="1.9"/>
<path d="M999.3 1172.2L1009.6 1172.2" stroke="#505050" stroke-width="1.9"/>
<path d="M999.3 1193.6L1009.6 1193.6" stroke="#505050" stroke-width="1.9"/>
<path d="M1000.2 1215.2L1009.6 1215.2" stroke="#505050" stroke-width="1.9"/>
<path d="M679.6 1188.1L823.4 1185.1" stroke="#505050" stroke-width="1.9"/>
<path d="M757 1304.2L836.3 1304.2" stroke="#505050" stroke-width="1.9"/>
<path d="M856.6 1319V1356.6H865.8M856.6 1334.5H865.8" stroke="#505050" stroke-width="1.9" fill="none"/>
<path d="M897.2 1479.2L984.5 1479.2" stroke="#505050" stroke-width="1.9"/>
<path d="M1008 1493.3V1517.3H1018.2" stroke="#505050" stroke-width="1.9" fill="none"/>
<path d="M862.8 1581.6L984.5 1579.7" stroke="#505050" stroke-width="1.9"/>
</g>
<g id="labels" font-family="Liberation Sans, sans-serif" fill="#383838" stroke="#383838" stroke-width="0.6" filter="url(#bt)">
<text x="797.0" y="518" font-size="19">0003</text>
<text x="838.5" y="549.5" font-size="19">0004</text>
<text x="838.5" y="571.5" font-size="19">0012</text>
<text x="838.5" y="594" font-size="19">0013</text>
<text x="838.5" y="614.5" font-size="19">0016</text>
<text x="944.0" y="514.5" font-size="19">0002</text>
<text x="984.5" y="549.5" font-size="19">0004</text>
<text x="984.5" y="573" font-size="19">0016</text>
<text x="1066.0" y="517" font-size="19">0001</text>
<text x="320.0" y="810.5" font-size="19">0005</text>
<text x="356.0" y="858.5" font-size="19">0013</text>
<text x="356.0" y="881" font-size="19">0016</text>
<text x="412.5" y="810.5" font-size="19">0013</text>
<text x="475.5" y="810.5" font-size="19">0011</text>
<text x="526.0" y="810.5" font-size="19">0014</text>
<text x="679.0" y="808" font-size="19">0017</text>
<text x="742.0" y="808" font-size="19">0004</text>
<text x="552.0" y="1170.5" font-size="19">0015</text>
<text x="263.0" y="1269.5" font-size="19">0021</text>
<text x="409.5" y="1295.5" font-size="19">0012</text>
<text x="356.0" y="1381" font-size="19">0006</text>
<text x="391.5" y="1418.5" font-size="19">0012</text>
<text x="392.5" y="1438.5" font-size="19">0016</text>
<text x="443.5" y="1378.5" font-size="19">0016</text>
<text x="493.0" y="1426" font-size="19">0009</text>
<text x="530.0" y="1458.5" font-size="19">0016</text>
<text x="552.0" y="1387.5" font-size="19">0018</text>
<text x="977.5" y="1110" font-size="19">0010</text>
<text x="1016.0" y="1135.8" font-size="19">0004</text>
<text x="1016.0" y="1157.8" font-size="19">0007</text>
<text x="1016.0" y="1180.7" font-size="19">0012</text>
<text x="1016.0" y="1199.6" font-size="19">0013</text>
<text x="1016.0" y="1219.8" font-size="19">0016</text>
<text x="822.5" y="1192.5" font-size="19">0007</text>
<text x="835.5" y="1311.5" font-size="19">0008</text>
<text x="867.0" y="1342" font-size="19">0007</text>
<text x="867.5" y="1364" font-size="19">0016</text>
<text x="984.5" y="1485.5" font-size="19">0019</text>
<text x="1022.0" y="1519" font-size="19">0020</text>
<text x="984.5" y="1588" font-size="19">0020</text>
</g>
</svg>
</body></html>
